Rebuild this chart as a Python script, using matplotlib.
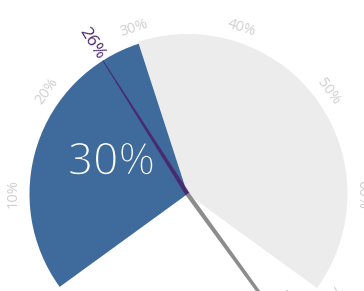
import numpy as np
import matplotlib.pyplot as plt
import matplotlib.patheffects as pe
from matplotlib.patches import Wedge, Polygon

# gauge data (percent)
value      = 30
band       = [30, 70]
marker     = 26
target     = 75
tick_vals  = [10, 20, 30, 40, 50, 60, 70, 80, 90]
tick_labs  = ["{}%".format(v) for v in tick_vals]

R      = 158
start  = 216.0      # angle of 0 %
sweep  = 360.0
blue   = '#3e6a9c'

def ang(v):
    return start - sweep * v / 100.0

def pol(r, a):
    a = np.radians(a)
    return r * np.cos(a), r * np.sin(a)

def needle(v, length, w0, w1, color, z):
    a  = np.radians(ang(v))
    d  = np.array([np.cos(a), np.sin(a)])
    n  = np.array([-np.sin(a), np.cos(a)])
    pts = [w0 * n, d * length + w1 * n, d * length - w1 * n, -w0 * n]
    ax.add_patch(Polygon(pts, closed=True, fc=color, ec='none', zorder=z))

fig = plt.figure(figsize=(3.64, 2.91), dpi=100)
ax  = fig.add_axes([0, 0, 1, 1])
ax.set_xlim(-187.5, 176.5)
ax.set_ylim(-97, 194)
ax.set_aspect('equal')
ax.axis('off')

ax.add_patch(Wedge((0, 0), R + 2, ang(band[1]), ang(band[0]), fc='#ececec', ec='none', zorder=1))
ax.add_patch(Wedge((0, 0), R, ang(value), ang(0), fc=blue, ec='none', zorder=2))

for v, lab in zip(tick_vals, tick_labs):
    x, y = pol(174, ang(v))
    ax.text(x, y, lab, fontsize=10.5, color='#cfcfcf', family='Open Sans',
            ha='center', va='center', rotation=ang(v) - 90, rotation_mode='anchor')

needle(target, 220, 2.2, 1.3, '#8c8c8c', 3)
needle(marker, R, 2.2, 0.4, '#4a2a6e', 4)

x, y = pol(178, ang(marker))
ax.text(x, y, "{}%".format(marker), fontsize=12.5, color='#4a2a6e', family='Open Sans',
        ha='center', va='center', rotation=ang(marker) - 180, rotation_mode='anchor')

x, y = pol(135, ang(target) + 4)
ax.text(x, y, "{}%".format(target), fontsize=10.5, color='#8c8c8c', family='Open Sans',
        ha='left', va='bottom', rotation=ang(target), rotation_mode='anchor')

x, y = pol(82, 158)
ax.text(x, y, "{}%".format(value), fontsize=32, color='white', family='Open Sans',
        ha='center', va='center', zorder=5,
        path_effects=[pe.Stroke(linewidth=1.1, foreground=blue)])

fig.savefig('out.png', dpi=100)
